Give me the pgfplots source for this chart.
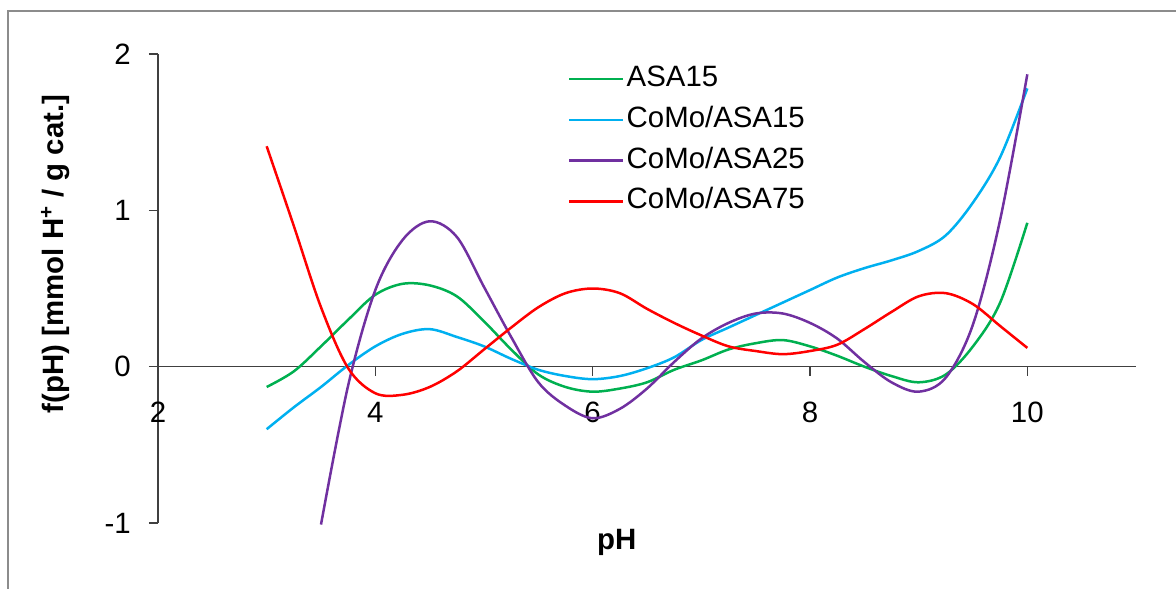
\documentclass[border=0pt]{standalone}
\usepackage{pgfplots}
\pgfplotsset{compat=1.18}
\usepackage{fontspec}
\setmainfont{Liberation Sans}
\definecolor{cgreen}{HTML}{00B050}
\definecolor{ccyan}{HTML}{00B0F0}
\definecolor{cpurple}{HTML}{7030A0}
\definecolor{cred}{HTML}{FF0000}
\definecolor{cframe}{HTML}{8C8C8C}
\definecolor{caxis}{HTML}{404040}
\newcommand{\fs}{\fontsize{14.7}{17}\selectfont}
\begin{document}
\fs
\begin{tikzpicture}
\begin{axis}[
  scale only axis,
  width=489pt, height=234.5pt,
  xmin=2, xmax=11, ymin=-1, ymax=2,
  axis x line*=middle, axis y line*=left,
  hide obscured x ticks=false,
  axis line style={caxis, line width=0.75pt},
  tick style={caxis, line width=0.75pt},
  major tick length=4.5pt,
  tick align=outside,
  xtick={2,4,6,8,10}, xticklabels={2,4,6,8,10},
  ytick={-1,0,1,2}, yticklabels={-1,0,1,2},
  xticklabel style={yshift=-8pt},
  yticklabel style={xshift=-4pt},
  ticklabel style={font=\fs},
  xlabel={\bfseries pH},
  ylabel={\bfseries f(pH) [mmol H\textsuperscript{+} / g cat.]},
  xlabel style={at={(axis description cs:0.469,-0.041)}, anchor=center, font=\fs},
  ylabel style={at={(axis description cs:-0.105,0.574)}, anchor=center, rotate=0, font=\fs},
  legend style={draw=none, fill=none, inner sep=0pt, at={(axis description cs:0.419,0.99)}, anchor=north west,
    font=\fs,
    nodes={inner xsep=1pt, inner ysep=3.2pt, text height=10.5pt, text depth=3pt},
    row sep=0.5pt},
  legend cell align=left,
  legend image code/.code={\draw[#1] (0pt,0pt) -- (27pt,0pt);},
  every axis plot/.append style={line width=1.25pt, smooth, tension=0.55},
  clip=false,
]
\addplot[cgreen] coordinates {
(3.0,-0.13) (3.25,-0.03) (3.5,0.13) (3.75,0.30) (4.0,0.46) (4.25,0.53) (4.5,0.52) (4.75,0.45)
(5.0,0.29) (5.25,0.11) (5.5,-0.05) (5.75,-0.13) (6.0,-0.16) (6.25,-0.14) (6.5,-0.10) (6.75,-0.02)
(7.0,0.04) (7.25,0.11) (7.5,0.15) (7.75,0.17) (8.0,0.13) (8.25,0.07) (8.5,0.00) (8.75,-0.06)
(9.0,-0.10) (9.25,-0.05) (9.5,0.13) (9.75,0.41) (10.0,0.92)};
\addlegendentry{ASA15}
\addplot[ccyan] coordinates {
(3.0,-0.40) (3.25,-0.26) (3.5,-0.13) (3.75,0.01) (4.0,0.13) (4.25,0.21) (4.5,0.24) (4.75,0.19)
(5.0,0.13) (5.25,0.05) (5.5,-0.02) (5.75,-0.06) (6.0,-0.08) (6.25,-0.06) (6.5,-0.01) (6.75,0.06)
(7.0,0.17) (7.25,0.25) (7.5,0.33) (7.75,0.41) (8.0,0.49) (8.25,0.57) (8.5,0.63) (8.75,0.68)
(9.0,0.74) (9.25,0.84) (9.5,1.05) (9.75,1.34) (10.0,1.78)};
\addlegendentry{CoMo/ASA15}
\addplot[cpurple] coordinates {
(3.5,-1.01) (3.75,-0.12) (4.0,0.49) (4.25,0.81) (4.5,0.93) (4.75,0.83)
(5.0,0.51) (5.25,0.19) (5.5,-0.10) (5.75,-0.25) (6.0,-0.33) (6.25,-0.27) (6.5,-0.14) (6.75,0.03)
(7.0,0.18) (7.25,0.28) (7.5,0.34) (7.75,0.34) (8.0,0.28) (8.25,0.18) (8.5,0.03) (8.75,-0.10)
(9.0,-0.16) (9.25,-0.07) (9.5,0.27) (9.75,0.94) (10.0,1.87)};
\addlegendentry{CoMo/ASA25}
\addplot[cred] coordinates {
(3.0,1.41) (3.25,0.90) (3.5,0.38) (3.75,-0.01) (4.0,-0.17) (4.25,-0.18) (4.5,-0.13) (4.75,-0.03)
(5.0,0.11) (5.25,0.25) (5.5,0.38) (5.75,0.47) (6.0,0.50) (6.25,0.47) (6.5,0.37) (6.75,0.28)
(7.0,0.20) (7.25,0.13) (7.5,0.10) (7.75,0.08) (8.0,0.10) (8.25,0.14) (8.5,0.24) (8.75,0.35)
(9.0,0.45) (9.25,0.47) (9.5,0.40) (9.75,0.26) (10.0,0.12)};
\addlegendentry{CoMo/ASA75}
\end{axis}
\draw[cframe, line width=0.75pt] (509pt,256pt) -- (-75pt,256pt) -- (-75pt,-33pt);
\pgfresetboundingbox
\useasboundingbox (-79pt,-33pt) rectangle (509pt,261.5pt);
\end{tikzpicture}
\end{document}
